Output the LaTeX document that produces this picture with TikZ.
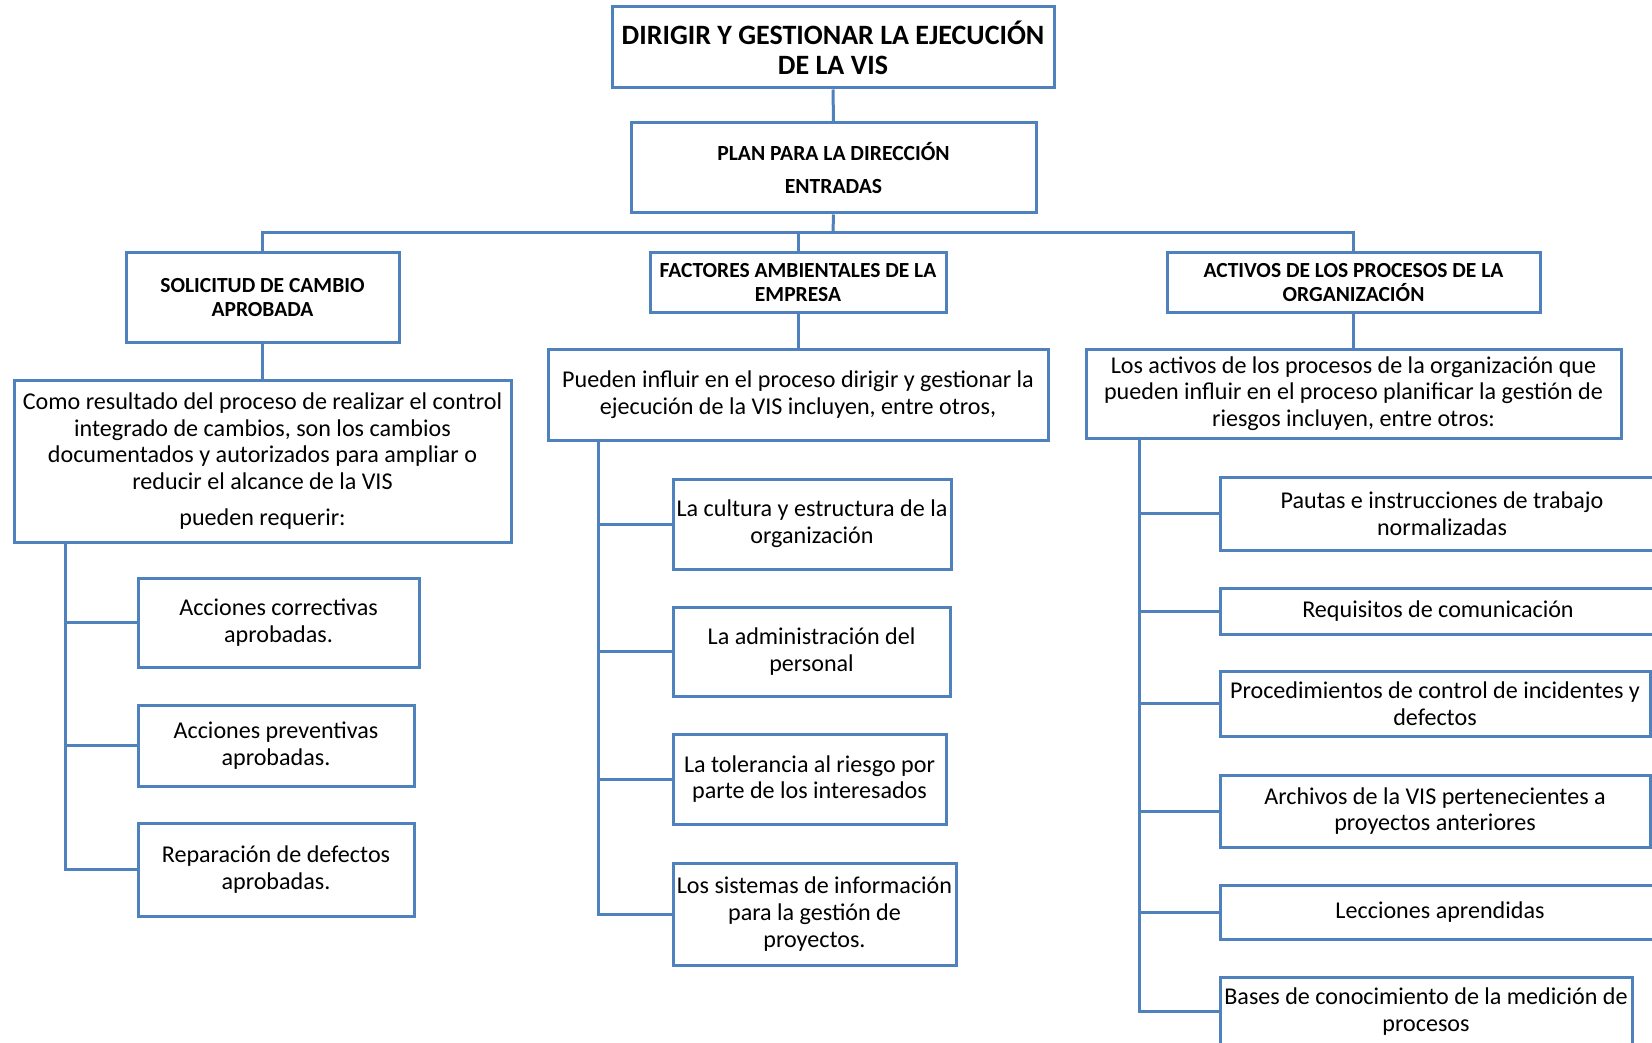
\documentclass[tikz,border=0pt]{standalone}
\usepackage{fontspec}
\setmainfont{Carlito}
\definecolor{boxblue}{HTML}{4F81BD}

\pgfdeclarelayer{under}
\pgfsetlayers{under,main}

\tikzset{
  box/.style={draw=boxblue, line width=3pt, fill=white, align=center,
    inner sep=0pt, font=\fontsize{24.1}{26.7}\selectfont},
  headbox/.style={box, font=\bfseries\fontsize{21.5}{24}\selectfont},
  link/.style={draw=boxblue, line width=3pt},
}

% \boxat{style}{name}{left}{top}{right}{bottom}{text}
\newcommand\boxat[7]{%
  \node[#1, minimum width={#5-#3}, minimum height={#6-#4}] (#2)
    at ({(#3+#5)/2},{(#4+#6)/2}) {#7};}

\begin{document}
\begin{tikzpicture}[x=1pt, y=-1pt]
\clip (0,0) rectangle (1652,1043);

% ---- title and inputs ----
\boxat{box, font=\bfseries\fontsize{28}{30}\selectfont}{title}{612}{7}{1054}{88}
  {DIRIGIR Y GESTIONAR LA EJECUCIÓN\\DE LA VIS}
\boxat{box, font=\bfseries\fontsize{21.6}{33}\selectfont}{plan}{631}{123}{1036}{213}
  {PLAN PARA LA DIRECCIÓN\\ENTRADAS}

% ---- three input groups ----
\boxat{headbox}{sol}{126}{253}{399}{342}{SOLICITUD DE CAMBIO\\APROBADA}
\boxat{headbox}{fac}{650}{253}{946}{312}{FACTORES AMBIENTALES DE LA\\EMPRESA}
\boxat{headbox}{act}{1167}{253}{1540}{312}{ACTIVOS DE LOS PROCESOS DE LA\\ORGANIZACIÓN}

% ---- descriptions ----
\boxat{box}{como}{14}{380}{511}{542}
  {Como resultado del proceso de realizar el control\\
   integrado de cambios, son los cambios\\
   documentados y autorizados para ampliar o\\
   reducir el alcance de la VIS\\[9pt]
   pueden requerir:}
\boxat{box}{infl}{548}{349}{1048}{440}
  {Pueden influir en el proceso dirigir y gestionar la\\
   ejecución de la VIS incluyen, entre otros,}
\boxat{box}{losact}{1086}{349}{1621}{438}
  {Los activos de los procesos de la organización que\\
   pueden influir en el proceso planificar la gestión de\\
   riesgos incluyen, entre otros:}

% ---- left column ----
\boxat{box}{c1}{138}{578}{419}{667}{Acciones correctivas\\aprobadas.}
\boxat{box}{c2}{138}{705}{414}{786}{Acciones preventivas\\aprobadas.}
\boxat{box}{c3}{138}{823}{414}{916}{Reparación de defectos\\aprobadas.}

% ---- middle column ----
\boxat{box}{m1}{673}{479}{951}{569}{La cultura y estructura de la\\organización}
\boxat{box}{m2}{673}{607}{950}{696}{La administración del\\personal}
\boxat{box}{m3}{673}{734}{946}{824}{La tolerancia al riesgo por\\parte de los interesados}
\boxat{box}{m4}{673}{863}{956}{965}{Los sistemas de información\\para la gestión de\\proyectos.}

% ---- right column ----
\boxat{box}{r1}{1220}{477}{1664}{550}{Pautas e instrucciones de trabajo\\normalizadas}
\boxat{box}{r2}{1220}{588}{1656}{634}{Requisitos de comunicación}
\boxat{box}{r3}{1220}{671}{1650}{736}{Procedimientos de control de incidentes y\\defectos}
\boxat{box}{r4}{1220}{775}{1650}{847}{Archivos de la VIS pertenecientes a\\proyectos anteriores}
\boxat{box}{r5}{1220}{885}{1660}{939}{Lecciones aprendidas}
\boxat{box}{r6}{1220}{977}{1632}{1046}{Bases de conocimiento de la medición de\\procesos}

% ---- connectors, kept beneath the boxes ----
\begin{pgfonlayer}{under}
\fill[white] (0,0) rectangle (1652,1043);
\coordinate (hub) at (833,233);
\draw[link] (title.south) -- (plan.north);
\draw[link] (plan.south) -- (hub);
\draw[link] (sol.north) |- (hub) -| (act.north);
\draw[link] (fac.north) -- (fac.north |- hub);

\draw[link] (sol.south) -- (como.north -| sol.south);
\draw[link] (fac.south) -- (infl.north -| fac.south);
\draw[link] (act.south) -- (losact.north -| act.south);

% left trunk
\coordinate (tl) at (65,542);
\draw[link] (tl) |- (c3.west);
\foreach \n in {c1,c2} \draw[link] (\n.west) -- (\n.west -| tl);

% middle trunk
\coordinate (tm) at (598,440);
\draw[link] (tm) |- (m4.west);
\foreach \n in {m1,m2,m3} \draw[link] (\n.west) -- (\n.west -| tm);

% right trunk
\coordinate (tr) at (1139,438);
\draw[link] (tr) |- (r6.west);
\foreach \n in {r1,r2,r3,r4,r5} \draw[link] (\n.west) -- (\n.west -| tr);
\end{pgfonlayer}
\end{tikzpicture}
\end{document}
